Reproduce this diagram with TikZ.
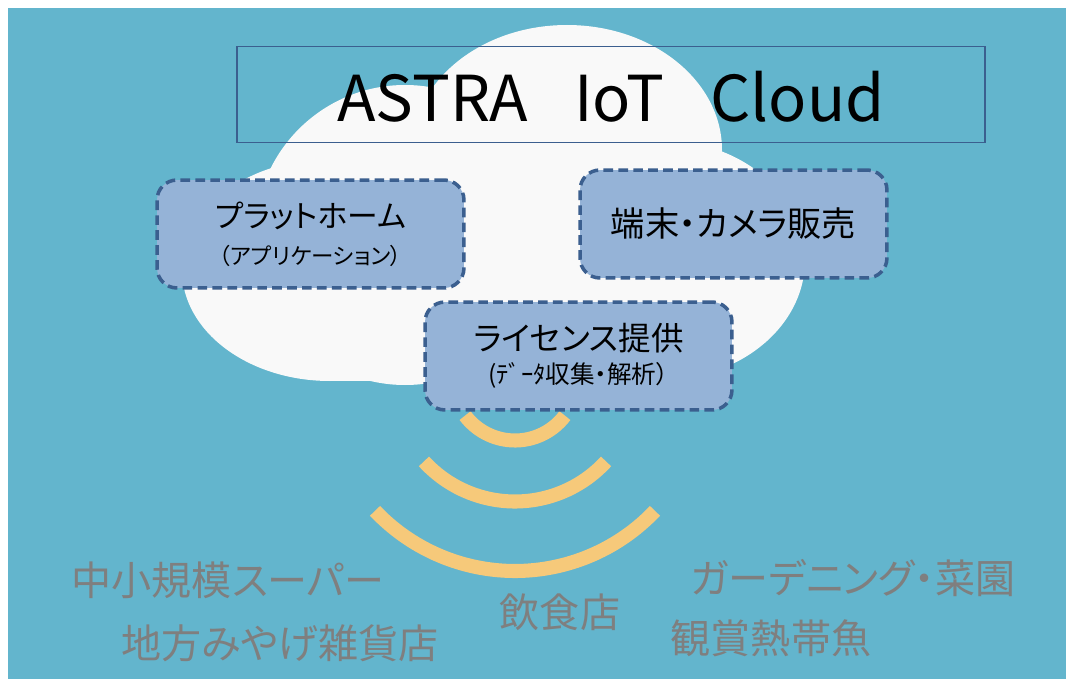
\documentclass[tikz,border=0pt]{standalone}
\usepackage{fontspec}
\setmainfont{Noto Sans CJK JP}[RawFeature=+palt]
\definecolor{sky}{HTML}{63B5CD}
\definecolor{cloudwhite}{HTML}{F9F9F9}
\definecolor{boxfill}{HTML}{95B3D7}
\definecolor{boxedge}{HTML}{3B5F8F}
\definecolor{wave}{HTML}{F6C97A}
\definecolor{shopgray}{HTML}{7F7F7F}

\begin{document}
\begin{tikzpicture}[ x=0.02cm, y=-0.02cm,
	service/.style={ draw=boxedge, fill=boxfill, line width=2pt, dash pattern=on 5.5pt off 3pt, rounded corners=0.4cm, minimum width=6.14cm, minimum height=2.16cm, align=center },
	shop/.style={ text=shopgray, font=\fontsize{22.8}{27}\selectfont },
	signal/.style={ draw=wave, line width=8pt } ]
	  \useasboundingbox (0,0) rectangle (1066,679);
	  \fill [ sky ] (8,8) rectangle (1066,679);

	  % cloud
	  \fill [ cloudwhite ] (567,150) ellipse [ x radius=155, y radius=125 ];
	  \fill [ cloudwhite ] (405,235) circle [ radius=150 ];
	  \fill [ cloudwhite ] (330,270) ellipse [ x radius=148, y radius=111 ];
	  \fill [ cloudwhite ] (660,260) ellipse [ x radius=145, y radius=120 ];
	  \fill [ cloudwhite ] (500,230) ellipse [ x radius=200, y radius=130 ];
	  \fill [ cloudwhite ] (330,270) rectangle (700,381);

	  \node (title) [ draw=boxedge, line width=1.1pt, minimum width=14.98cm, minimum height=1.92cm, text height=31pt, text depth=0pt, font=\fontsize{36}{40}\selectfont ] at (611,94.5) {ASTRA\hspace{26pt}IoT\hspace{26pt}Cloud};

	  % signal
	  \coordinate (antenna) at (515,378);
	  \draw [ signal ] (antenna) ++(43.5:193) arc [ start angle=43.5, end angle=136.5, radius=193 ];
	  \draw [ signal ] (antenna) ++(42.5:123.5) arc [ start angle=42.5, end angle=137.5, radius=123.5 ];
	  \draw [ signal ] (antenna) ++(37:62.5) arc [ start angle=37, end angle=143, radius=62.5 ];

	  \node (platform) [ service, font=\fontsize{17.5}{21}\selectfont ] at (310.5,234) {プラットホーム\\{\fontsize{12.8}{14}\selectfont （アプリケーション）}};
	  \node (devices) [ service, font=\fontsize{19.5}{22}\selectfont ] at (733.5,224) {端末・カメラ販売};
	  \node (license) [ service, font=\fontsize{18.5}{18.7}\selectfont ] at (578.5,356) {ライセンス提供\\{\fontsize{14}{16}\selectfont (ﾃﾞｰﾀ収集・解析）}};

	  % customers
	  \node (supermarket) [ shop ] at (228,580) {中小規模スーパー};
	  \node (souvenir) [ shop ] at (280,643) {地方みやげ雑貨店};
	  \node (restaurant) [ shop ] at (560,612) {飲食店};
	  \node (garden) [ shop ] at (853,578) {ガーデニング・菜園};
	  \node (aquarium) [ shop ] at (771,638) {観賞熱帯魚};
\end{tikzpicture}
\end{document}
